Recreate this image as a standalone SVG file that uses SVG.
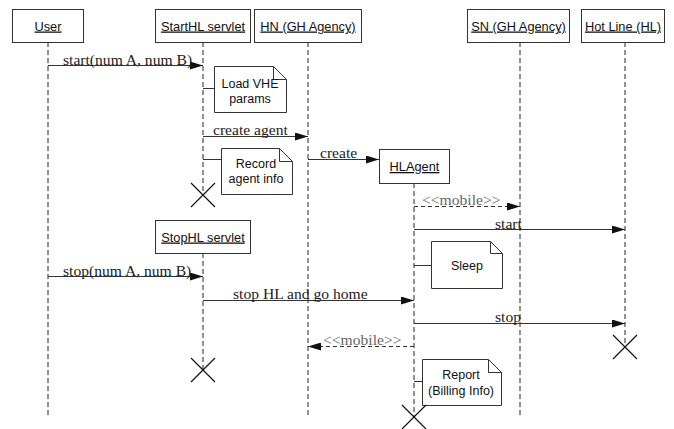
<svg xmlns="http://www.w3.org/2000/svg" width="674" height="429" viewBox="0 0 674 429">
<style>
.box{fill:#fff;stroke:#333;stroke-width:1}
.life{stroke:#222;stroke-width:1;stroke-dasharray:5,3;fill:none}
.msg{stroke:#333;stroke-width:1;fill:none}
.ret{stroke:#333;stroke-width:1;fill:none;stroke-dasharray:4,3}
.x{stroke:#111;stroke-width:1.2;fill:none}
.hdr{font-family:"Liberation Sans",Arial,sans-serif;font-size:12.8px;fill:#111;text-anchor:middle;text-decoration:underline}
.note{font-family:"Liberation Sans",Arial,sans-serif;font-size:12.5px;fill:#111;text-anchor:middle}
.lbl{font-family:"Liberation Serif","Times New Roman",serif;font-size:15.6px;fill:#222}
.mob{font-family:"Liberation Serif","Times New Roman",serif;font-size:15.6px;fill:#666}
</style>
<defs>
<marker id="arr" markerWidth="13" markerHeight="8" refX="13" refY="4" orient="auto" markerUnits="userSpaceOnUse">
<path d="M0,0 L13,4 L0,8 Z" fill="#111"/>
</marker>
</defs>

<g id="lifelines">
<line class="life" x1="48" y1="42" x2="48" y2="417"/>
<line class="life" x1="203" y1="42" x2="203" y2="195"/>
<line class="life" x1="308" y1="42" x2="308" y2="417"/>
<line class="life" x1="520" y1="42" x2="520" y2="417"/>
<line class="life" x1="625" y1="42" x2="625" y2="347"/>
<line class="life" x1="203" y1="253" x2="203" y2="370"/>
<line class="life" x1="414" y1="183" x2="414" y2="417"/>
</g>

<g id="user"><rect class="box" x="12.5" y="9.5" width="71" height="33"/><text class="hdr" x="48" y="30.5">User</text></g>
<g id="starthl"><rect class="box" x="155.5" y="9.5" width="95" height="33"/><text class="hdr" x="203" y="30.5">StartHL servlet</text></g>
<g id="hn"><rect class="box" x="254.5" y="9.5" width="107" height="33"/><text class="hdr" x="308" y="30.5">HN (GH Agency)</text></g>
<g id="sn"><rect class="box" x="467.5" y="9.5" width="102" height="33"/><text class="hdr" x="518.5" y="30.5">SN (GH Agency)</text></g>
<g id="hl"><rect class="box" x="581.5" y="9.5" width="83" height="33"/><text class="hdr" x="623" y="30.5">Hot Line (HL)</text></g>
<g id="hlagent"><rect class="box" x="379.5" y="149.5" width="70" height="34"/><text class="hdr" x="414.5" y="171">HLAgent</text></g>
<g id="stophl"><rect class="box" x="155.5" y="220.5" width="95" height="33"/><text class="hdr" x="203" y="241.5">StopHL servlet</text></g>

<g id="note-load">
<path class="box" d="M214.5,66.5 H273.5 L286.5,79.5 V112.5 H214.5 Z"/>
<path class="msg" d="M273.5,66.5 V79.5 H286.5"/>
<text class="note" x="250" y="88">Load VHE</text>
<text class="note" x="250" y="103">params</text>
</g>
<g id="note-record">
<path class="box" d="M221.5,148.5 H279.5 L292.5,161.5 V194.5 H221.5 Z"/>
<path class="msg" d="M279.5,148.5 V161.5 H292.5"/>
<text class="note" x="256" y="168">Record</text>
<text class="note" x="256" y="183">agent info</text>
</g>
<g id="note-sleep">
<path class="box" d="M431.5,241.5 H490.5 L502.5,253.5 V288.5 H431.5 Z"/>
<path class="msg" d="M490.5,241.5 V253.5 H502.5"/>
<text class="note" x="467" y="270">Sleep</text>
</g>
<g id="note-report">
<path class="box" d="M422.5,359.5 H488.5 L501.5,372.5 V405.5 H422.5 Z"/>
<path class="msg" d="M488.5,359.5 V372.5 H501.5"/>
<text class="note" x="461" y="379">Report</text>
<text class="note" x="461" y="395">(Billing Info)</text>
</g>

<g id="destroys">
<path class="x" d="M191,183 L215,207 M215,183 L191,207"/>
<path class="x" d="M191,358 L215,382 M215,358 L191,382"/>
<path class="x" d="M613,335 L637,359 M637,335 L613,359"/>
<path class="x" d="M402,405 L426,429 M426,405 L402,429"/>
</g>

<g id="connectors">
<line class="msg" x1="48" y1="65.5" x2="203" y2="65.5" marker-end="url(#arr)"/>
<text class="lbl" x="63" y="65">start(num A, num B)</text>
<line class="msg" x1="203" y1="88.5" x2="214.5" y2="88.5"/>
<line class="msg" x1="203" y1="136.5" x2="308" y2="136.5" marker-end="url(#arr)"/>
<text class="lbl" x="213" y="135">create agent</text>
<line class="msg" x1="203" y1="159.5" x2="221.5" y2="159.5"/>
<line class="msg" x1="308" y1="159.5" x2="379" y2="159.5" marker-end="url(#arr)"/>
<text class="lbl" x="320" y="158">create</text>
<line class="ret" x1="414" y1="206.5" x2="520" y2="206.5" marker-end="url(#arr)"/>
<text class="mob" x="422" y="205">&lt;&lt;mobile&gt;&gt;</text>
<line class="msg" x1="414" y1="229.5" x2="625" y2="229.5" marker-end="url(#arr)"/>
<text class="lbl" x="495" y="229">start</text>
<line class="msg" x1="414" y1="265.5" x2="431.5" y2="265.5"/>
<line class="msg" x1="48" y1="276.5" x2="203" y2="276.5" marker-end="url(#arr)"/>
<text class="lbl" x="63" y="276">stop(num A, num B)</text>
<line class="msg" x1="203" y1="300.5" x2="414" y2="300.5" marker-end="url(#arr)"/>
<text class="lbl" x="233" y="299">stop HL and go home</text>
<line class="msg" x1="414" y1="323.5" x2="625" y2="323.5" marker-end="url(#arr)"/>
<text class="lbl" x="495" y="322">stop</text>
<line class="ret" x1="414" y1="346.5" x2="308" y2="346.5" marker-end="url(#arr)"/>
<text class="mob" x="323" y="345">&lt;&lt;mobile&gt;&gt;</text>
<line class="msg" x1="414" y1="381.5" x2="422.5" y2="381.5"/>
</g>
</svg>
